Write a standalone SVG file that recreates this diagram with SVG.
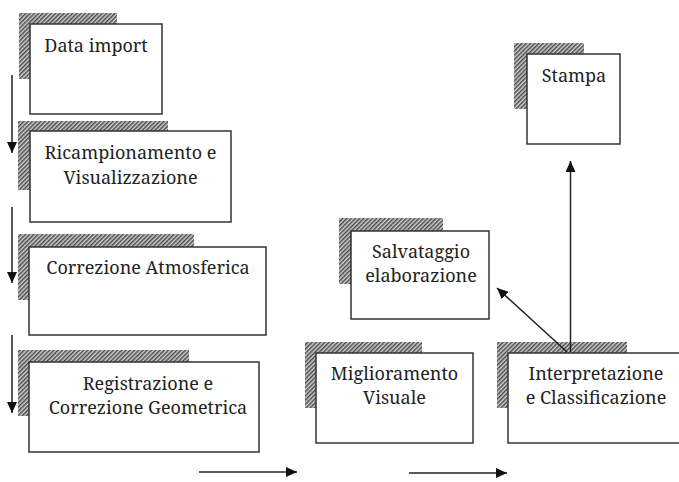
<svg xmlns="http://www.w3.org/2000/svg" width="679" height="482" viewBox="0 0 679 482">
<defs>
<pattern id="hatch" width="3" height="3" patternUnits="userSpaceOnUse" patternTransform="rotate(45)">
<rect width="3" height="3" fill="#d0d0d0"/>
<rect width="1.5" height="3" fill="#4a4a4a"/>
</pattern>
<marker id="arr" markerUnits="userSpaceOnUse" markerWidth="12" markerHeight="10" refX="11" refY="5" orient="auto">
<path d="M0,0 L11,5 L0,10 z" fill="#111"/>
</marker>
</defs>
<style>
.sh{fill:url(#hatch)}
.bx{fill:#fff;stroke:#333;stroke-width:1.5}
.t{font-family:"Noto Serif","Liberation Serif","DejaVu Serif",serif;font-size:18px;fill:#222;text-anchor:middle}
.c{stroke:#222;stroke-width:1.5;fill:none;marker-end:url(#arr)}
</style>
<rect width="679" height="482" fill="#fff"/>
<g id="n-data-import">
<rect class="sh" x="19" y="13" width="98" height="66"/>
<rect class="bx" x="30" y="24" width="132" height="90"/>
<text class="t" x="96" y="52">Data import</text>
</g>
<g id="n-ricampionamento">
<rect class="sh" x="18" y="121" width="150" height="69"/>
<rect class="bx" x="30" y="131" width="201" height="91"/>
<text class="t" x="130.5" y="159">Ricampionamento e</text>
<text class="t" x="130.5" y="184">Visualizzazione</text>
</g>
<g id="n-correzione-atm">
<rect class="sh" x="18" y="234" width="176" height="66"/>
<rect class="bx" x="29" y="247" width="237" height="88"/>
<text class="t" x="148" y="274">Correzione Atmosferica</text>
</g>
<g id="n-registrazione">
<rect class="sh" x="18" y="350" width="171" height="66"/>
<rect class="bx" x="29" y="362" width="230" height="90"/>
<text class="t" x="148" y="390">Registrazione e</text>
<text class="t" x="148" y="414">Correzione Geometrica</text>
</g>
<g id="n-miglioramento">
<rect class="sh" x="305" y="342" width="117" height="66"/>
<rect class="bx" x="316" y="353" width="157" height="90"/>
<text class="t" x="394.5" y="380">Miglioramento</text>
<text class="t" x="394.5" y="404">Visuale</text>
</g>
<g id="n-interpretazione">
<rect class="sh" x="497" y="342" width="130" height="66"/>
<rect class="bx" x="508" y="353" width="180" height="90"/>
<text class="t" x="596" y="380">Interpretazione</text>
<text class="t" x="596" y="404">e Classificazione</text>
</g>
<g id="n-salvataggio">
<rect class="sh" x="339" y="218" width="104" height="66"/>
<rect class="bx" x="351" y="231" width="138" height="88"/>
<text class="t" x="421" y="258">Salvataggio</text>
<text class="t" x="421" y="282">elaborazione</text>
</g>
<g id="n-stampa">
<rect class="sh" x="514" y="43" width="70" height="66"/>
<rect class="bx" x="527" y="54" width="93" height="90"/>
<text class="t" x="574" y="82">Stampa</text>
</g>
<g id="connectors">
<line class="c" x1="12" y1="75" x2="12" y2="153"/>
<line class="c" x1="12" y1="207" x2="12" y2="283"/>
<line class="c" x1="12" y1="335" x2="12" y2="413"/>
<line class="c" x1="199" y1="472" x2="297" y2="472"/>
<line class="c" x1="409" y1="473" x2="507" y2="473"/>
<line class="c" x1="567" y1="352" x2="497" y2="288"/>
<line class="c" x1="570.5" y1="352" x2="570.5" y2="161"/>
</g>
</svg>
